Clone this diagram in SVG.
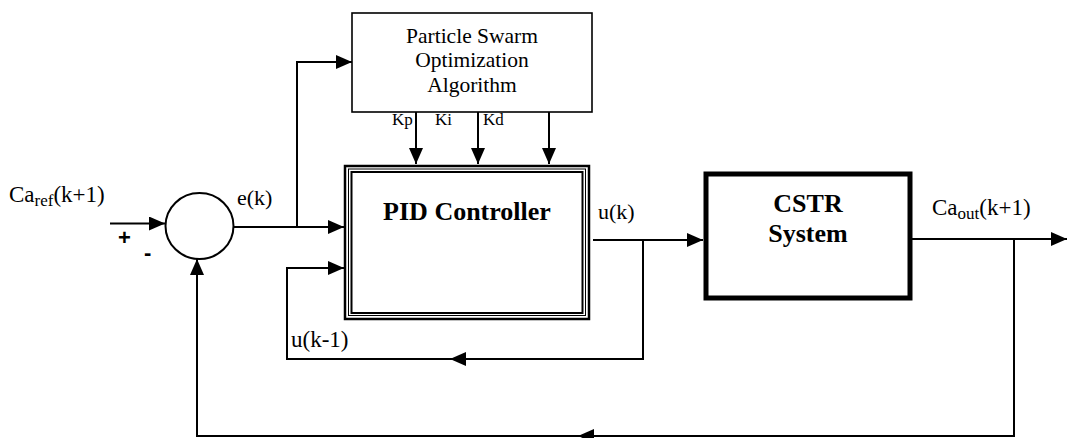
<svg xmlns="http://www.w3.org/2000/svg" width="1067" height="438" viewBox="0 0 1067 438">
<style>
text.t{font-family:'Liberation Serif','Times New Roman',Times,'DejaVu Serif',serif;fill:#000}
text.b{font-weight:bold}
text.s{font-family:'Liberation Sans',Arial,sans-serif;font-weight:bold;fill:#000}
.ln{fill:none;stroke:#000;stroke-width:2}
</style>
<defs>
<marker id="ah" markerUnits="userSpaceOnUse" markerWidth="17" markerHeight="15" refX="16" refY="7" orient="auto">
<path d="M0,0 L16,7 L0,14 Z" fill="#000"/>
</marker>
</defs>
<rect width="1067" height="438" fill="#fff"/>

<g id="pso">
<rect x="352" y="13" width="240" height="99" fill="#fff" stroke="#000" stroke-width="1.6"/>
<text class="t" x="472" y="43" font-size="21.5" text-anchor="middle">Particle Swarm</text>
<text class="t" x="472" y="67" font-size="21.5" text-anchor="middle">Optimization</text>
<text class="t" x="472" y="92" font-size="21.5" text-anchor="middle">Algorithm</text>
</g>

<g id="sum">
<ellipse cx="199.5" cy="226" rx="34" ry="33" fill="#fff" stroke="#000" stroke-width="2"/>
<text class="s" x="118" y="245" font-size="22">+</text>
<text class="s" x="144" y="260" font-size="22">-</text>
</g>

<g id="pid">
<rect x="345" y="166" width="244" height="153" fill="#fff" stroke="#000" stroke-width="2.5"/>
<rect x="348.5" y="169" width="237" height="146.5" fill="none" stroke="#000" stroke-width="1"/>
<rect x="351.5" y="172" width="231" height="141" fill="none" stroke="#000" stroke-width="2"/>
<text class="t b" x="467" y="220" font-size="26" text-anchor="middle">PID Controller</text>
</g>

<g id="cstr">
<rect x="706" y="174" width="204" height="124" fill="#fff" stroke="#000" stroke-width="5"/>
<text class="t b" x="808" y="212" font-size="26" text-anchor="middle">CSTR</text>
<text class="t b" x="808" y="242" font-size="26" text-anchor="middle">System</text>
</g>

<g id="connectors">
<path class="ln" d="M110,223.5 H165" marker-end="url(#ah)"/>
<path class="ln" d="M234,227 H344" marker-end="url(#ah)"/>
<path class="ln" d="M297,227 V62 H352" marker-end="url(#ah)"/>
<path class="ln" d="M416,112 V164" marker-end="url(#ah)"/>
<path class="ln" d="M478,112 V164" marker-end="url(#ah)"/>
<path class="ln" d="M549,112 V164" marker-end="url(#ah)"/>
<path class="ln" d="M593,240 H703" marker-end="url(#ah)"/>
<path class="ln" d="M643,240 V359 H450" marker-end="url(#ah)"/>
<path class="ln" d="M460,359 H287 V268 H344" marker-end="url(#ah)"/>
<path class="ln" d="M912,239 H1067" marker-end="url(#ah)"/>
<path class="ln" d="M1014,239 V436 H578" marker-end="url(#ah)"/>
<path class="ln" d="M590,436 H197 V259" marker-end="url(#ah)"/>
</g>

<g id="labels">
<text class="t" x="9" y="202" font-size="23">Ca<tspan font-size="17" dy="4">ref</tspan><tspan dy="-4">(k+1)</tspan></text>
<text class="t" x="237" y="205" font-size="22">e(k)</text>
<text class="t" x="392" y="125" font-size="17">Kp</text>
<text class="t" x="435" y="125" font-size="17">Ki</text>
<text class="t" x="483" y="125" font-size="17">Kd</text>
<text class="t" x="598" y="219" font-size="22">u(k)</text>
<text class="t" x="291" y="347" font-size="23">u(k-1)</text>
<text class="t" x="932" y="215" font-size="23">Ca<tspan font-size="17" dy="4">out</tspan><tspan dy="-4">(k+1)</tspan></text>
</g>
</svg>
